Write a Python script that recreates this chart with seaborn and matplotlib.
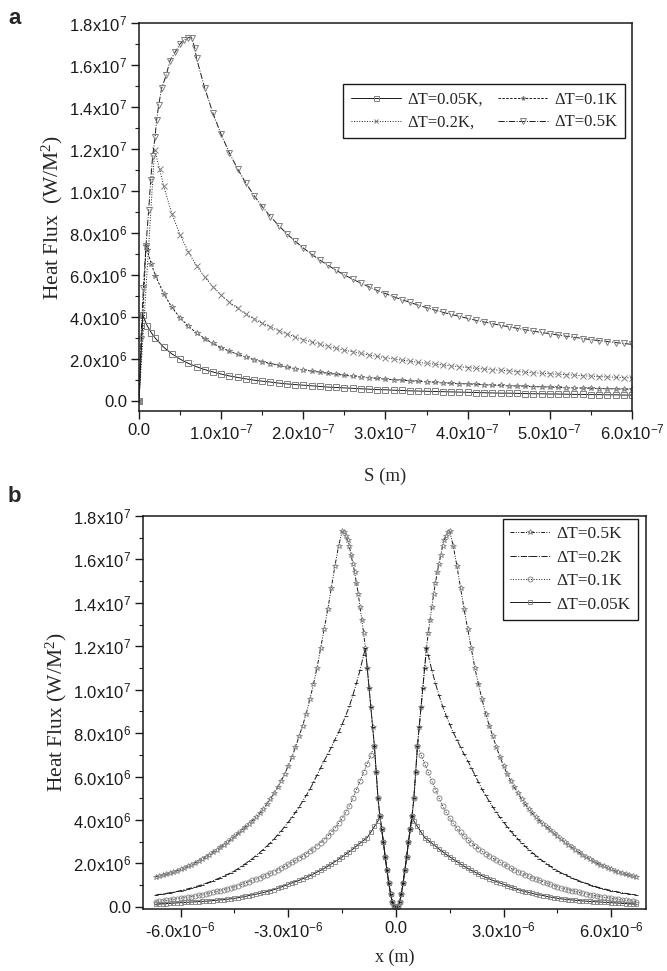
import numpy as np
import seaborn as sns
import matplotlib.pyplot as plt
from matplotlib.ticker import FuncFormatter, MultipleLocator

sns.set_theme(style='ticks')
plt.rcParams['font.family'] = ['Liberation Sans', 'DejaVu Sans']
plt.rcParams['mathtext.default'] = 'regular'

# ---------- panel a : S in 1e-7 m, heat flux in 1e6 W/m2 ----------
s_tail = [0.7, 0.8, 0.9, 1.0, 1.1, 1.2, 1.3, 1.4, 1.5, 1.6, 1.7, 1.8, 1.9, 2.0,
          2.1, 2.2, 2.3, 2.4, 2.5, 2.6, 2.7, 2.8, 2.9, 3.0, 3.1, 3.2, 3.3, 3.4,
          3.5, 3.6, 3.7, 3.8, 3.9, 4.0, 4.1, 4.2, 4.3, 4.4, 4.5, 4.6, 4.7, 4.8,
          4.9, 5.0, 5.1, 5.2, 5.3, 5.4, 5.5, 5.6, 5.7, 5.8, 5.9, 6.0]

s_head_005 = [0.0, 0.045, 0.1, 0.15, 0.2, 0.3, 0.4, 0.5, 0.6]
q_head_005 = [0.0, 4.1, 3.58, 3.25, 2.98, 2.56, 2.24, 1.99, 1.79]
q_tail_005 = [1.63, 1.49, 1.38, 1.28, 1.19, 1.12, 1.05, 0.99, 0.94, 0.90, 0.85,
              0.81, 0.78, 0.75, 0.72, 0.69, 0.66, 0.64, 0.62, 0.60, 0.58, 0.56,
              0.54, 0.53, 0.51, 0.50, 0.48, 0.47, 0.46, 0.45, 0.44, 0.43, 0.42,
              0.41, 0.40, 0.39, 0.38, 0.37, 0.37, 0.36, 0.35, 0.34, 0.34, 0.33,
              0.33, 0.32, 0.31, 0.31, 0.30, 0.30, 0.29, 0.29, 0.28, 0.28]

s_head_01 = [0.0, 0.085, 0.1, 0.15, 0.2, 0.3, 0.4, 0.5, 0.6]
q_head_01 = [0.0, 7.4, 7.18, 6.52, 5.97, 5.11, 4.46, 3.96, 3.56]
q_tail_01 = [3.24, 2.97, 2.74, 2.54, 2.37, 2.22, 2.09, 1.97, 1.87, 1.78, 1.69,
             1.61, 1.54, 1.48, 1.42, 1.37, 1.31, 1.27, 1.22, 1.18, 1.14, 1.11,
             1.07, 1.04, 1.01, 0.99, 0.96, 0.93, 0.91, 0.89, 0.86, 0.84, 0.82,
             0.81, 0.79, 0.77, 0.75, 0.74, 0.72, 0.71, 0.70, 0.68, 0.67, 0.66,
             0.64, 0.63, 0.62, 0.61, 0.60, 0.59, 0.58, 0.57, 0.56, 0.55]

s_head_02 = [0.0, 0.19, 0.25, 0.3, 0.4, 0.5, 0.6]
q_head_02 = [0.0, 11.95, 11.05, 10.24, 8.92, 7.91, 7.10]
q_tail_02 = [6.44, 5.90, 5.44, 5.04, 4.70, 4.41, 4.14, 3.91, 3.70, 3.52, 3.35,
             3.19, 3.05, 2.92, 2.81, 2.70, 2.60, 2.50, 2.42, 2.34, 2.26, 2.19,
             2.12, 2.06, 2.00, 1.94, 1.89, 1.84, 1.79, 1.75, 1.71, 1.67, 1.63,
             1.59, 1.55, 1.52, 1.49, 1.46, 1.43, 1.40, 1.37, 1.34, 1.32, 1.29,
             1.27, 1.25, 1.23, 1.20, 1.18, 1.16, 1.14, 1.13, 1.11, 1.09]

s_head_05 = [0.0, 0.024, 0.053, 0.085, 0.118, 0.142, 0.166, 0.195, 0.215, 0.24,
             0.276, 0.33, 0.377, 0.438, 0.5, 0.55, 0.6, 0.64, 0.68]
q_head_05 = [0.0, 2.96, 5.36, 7.4, 9.1, 10.5, 11.65, 12.56, 13.4, 14.1, 14.9,
             15.5, 16.2, 16.6, 17.0, 17.2, 17.3, 17.3, 16.8]
q_tail_05 = [16.32, 14.90, 13.70, 12.69, 11.81, 11.05, 10.38, 9.78, 9.25, 8.78,
             8.35, 7.96, 7.61, 7.28, 6.99, 6.71, 6.46, 6.22, 6.00, 5.80, 5.61,
             5.43, 5.26, 5.11, 4.96, 4.82, 4.69, 4.56, 4.44, 4.33, 4.22, 4.12,
             4.03, 3.93, 3.84, 3.76, 3.68, 3.60, 3.53, 3.46, 3.39, 3.32, 3.26,
             3.20, 3.14, 3.08, 3.03, 2.97, 2.92, 2.87, 2.83, 2.78, 2.74, 2.69]

# ---------- panel b : x in 1e-6 m (right half, mirrored), heat flux in 1e6 W/m2 ----------
xb_rise = [0.0, 0.05, 0.1, 0.15, 0.2, 0.25, 0.3, 0.35, 0.4, 0.45, 0.5, 0.55, 0.6,
           0.65, 0.7, 0.75, 0.8, 0.85, 0.9, 0.95, 1.0, 1.05, 1.1, 1.15, 1.2,
           1.25, 1.3, 1.35, 1.4, 1.45, 1.5]
qb_rise = [0.0, 0.05, 0.2, 0.6, 1.1, 1.7, 2.3, 3.0, 3.6, 4.2, 5.0, 6.2, 7.4,
           8.3, 9.2, 10.1, 11.0, 11.9, 12.6, 13.2, 13.8, 14.4, 14.9, 15.4, 15.8,
           16.2, 16.6, 16.9, 17.1, 17.25, 17.3]

xb_grid = [0.5, 0.6, 0.7, 0.8, 0.9, 1.0, 1.1, 1.2, 1.3, 1.4, 1.5, 1.6, 1.7, 1.8,
           1.9, 2.0, 2.1, 2.2, 2.3, 2.4, 2.5, 2.6, 2.7, 2.8, 2.9, 3.0, 3.1, 3.2,
           3.3, 3.4, 3.5, 3.6, 3.7, 3.8, 3.9, 4.0, 4.1, 4.2, 4.3, 4.4, 4.5, 4.6,
           4.7, 4.8, 4.9, 5.0, 5.1, 5.2, 5.3, 5.4, 5.5, 5.6, 5.7, 5.8, 5.9, 6.0,
           6.1, 6.2, 6.3, 6.4, 6.5, 6.6, 6.7]

qb_tail_05 = [16.6, 15.7, 14.7, 13.7, 12.8, 11.9, 11.0, 10.25, 9.55, 8.9,
              8.35, 7.85, 7.35, 6.9, 6.5, 6.12, 5.8, 5.5, 5.22, 4.97,
              4.73, 4.5, 4.3, 4.13, 3.97, 3.82, 3.67, 3.52, 3.38, 3.24,
              3.11, 2.98, 2.86, 2.74, 2.62, 2.51, 2.4, 2.3, 2.2, 2.11,
              2.02, 1.94, 1.86, 1.79, 1.72, 1.66, 1.6, 1.55, 1.5, 1.46,
              1.42, 1.38]
qb_tail_02 = [11.6, 10.9, 10.3, 9.75, 9.23, 8.8, 8.4, 8.03, 7.7, 7.35, 7.03,
              6.73, 6.4, 6.07, 5.73, 5.41, 5.13, 4.86, 4.6, 4.35, 4.12, 3.9,
              3.69, 3.49, 3.3, 3.12, 2.95, 2.79, 2.64, 2.5, 2.36, 2.22, 2.1,
              1.98, 1.87, 1.76, 1.66, 1.57, 1.49, 1.41, 1.34, 1.27, 1.2, 1.14,
              1.08, 1.02, 0.97, 0.92, 0.87, 0.83, 0.79, 0.75, 0.71, 0.68, 0.65,
              0.62, 0.59, 0.57, 0.54]
qb_tail_01 = [7.0, 6.6, 6.2, 5.8, 5.4, 5.0, 4.65, 4.35, 4.08, 3.84, 3.62, 3.43,
              3.26, 3.1, 2.95, 2.81, 2.68, 2.56, 2.45, 2.34, 2.24, 2.14, 2.05,
              1.96, 1.87, 1.78, 1.7, 1.62, 1.55, 1.48, 1.41, 1.34, 1.28, 1.22,
              1.16, 1.1, 1.04, 0.98, 0.92, 0.87, 0.83, 0.79, 0.75, 0.71, 0.67,
              0.63, 0.6, 0.56, 0.53, 0.5, 0.47, 0.44, 0.42, 0.39, 0.37, 0.34,
              0.32, 0.3, 0.28, 0.26, 0.24]
qb_tail_005 = [3.95, 3.7, 3.44, 3.19, 3.06, 2.93, 2.8, 2.66, 2.54, 2.42, 2.3,
               2.19, 2.08, 1.97, 1.87, 1.77, 1.68, 1.6, 1.51, 1.43, 1.36, 1.29,
               1.22, 1.16, 1.1, 1.04, 0.97, 0.91, 0.85, 0.79, 0.74, 0.7, 0.66,
               0.62, 0.58, 0.55, 0.52, 0.48, 0.45, 0.42, 0.39, 0.37, 0.35, 0.33,
               0.32, 0.3, 0.29, 0.27, 0.26, 0.25, 0.24, 0.23, 0.22, 0.21, 0.2,
               0.19, 0.18, 0.17, 0.16, 0.15, 0.14, 0.13, 0.12]

# (points kept from the common rising branch, first tail point in xb_grid)
split_b = {'0.05': (10, 0), '0.1': (13, 2), '0.2': (18, 4), '0.5': (31, 11)}


def sci_fmt(v, pos):
    if abs(v) < 1e-30:
        return '0.0'
    e = int(np.floor(np.log10(abs(v)) + 1e-9))
    m = v / 10.0 ** e
    return f'{m:.1f}x10$^{{{e}}}$'


def mirror(x, y):
    x = list(x)
    y = list(y)
    return [-v for v in x[::-1][:-1]] + x, y[::-1][:-1] + y


serif = ['Liberation Serif', 'DejaVu Serif']
mgray = '#808080'

fig = plt.figure(figsize=(6.67, 9.71), dpi=100)
fig.patch.set_facecolor('white')
ax1 = fig.add_axes([139 / 667, 1 - 411 / 971, (632 - 139) / 667, (411 - 23) / 971])
ax2 = fig.add_axes([143 / 667, 1 - 909 / 971, (646 - 143) / 667, (909 - 516) / 971])

# ----- panel a -----
series_a = [
    ('ΔT=0.05K,', s_head_005, q_head_005, q_tail_005, '-', 's', 4.5),
    ('ΔT=0.1K', s_head_01, q_head_01, q_tail_01, (0, (2.5, 1.5)), '*', 4.2),
    ('ΔT=0.2K,', s_head_02, q_head_02, q_tail_02, ':', 'x', 4.4),
    ('ΔT=0.5K', s_head_05, q_head_05, q_tail_05, '-.', 'v', 4.8),
]
handles_a = {}
for lab, sh, qh, qt, ls, mk, ms in series_a:
    xs = np.array(sh + s_tail) * 1e-7
    ys = np.array(qh + qt) * 1e6
    sns.lineplot(x=xs, y=ys, ax=ax1, sort=False, estimator=None, color='k',
                 linewidth=0.7, linestyle=ls, marker=mk, markersize=ms,
                 markerfacecolor='none', markeredgecolor=mgray,
                 markeredgewidth=0.7, label=lab)
    handles_a[lab] = ax1.get_lines()[-1]

ax1.set_xlim(0, 6e-7)
ax1.set_ylim(-4.8e5, 1.8e7)
ax1.xaxis.set_major_locator(MultipleLocator(1e-7))
ax1.xaxis.set_minor_locator(MultipleLocator(0.5e-7))
ax1.yaxis.set_major_locator(MultipleLocator(2e6))
ax1.yaxis.set_minor_locator(MultipleLocator(1e6))
ax1.set_xlabel('S (m)', family=serif, fontsize=13.5, labelpad=18)
ax1.set_ylabel('Heat Flux  (W/M$^2$)', family=serif, fontsize=15.5, labelpad=3)
order_a = ['ΔT=0.05K,', 'ΔT=0.2K,', 'ΔT=0.1K', 'ΔT=0.5K']
ax1.legend([handles_a[k] for k in order_a], order_a, ncol=2, loc='upper right',
           bbox_to_anchor=(0.986, 0.842), borderaxespad=0, frameon=True,
           fancybox=False, edgecolor='k', framealpha=1,
           prop={'family': serif, 'size': 12},
           handlelength=3.0, handletextpad=0.4, columnspacing=0.9,
           labelspacing=0.4, borderpad=0.45, markerscale=0.8)

# ----- panel b -----
series_b = [
    ('ΔT=0.5K', '0.5', qb_tail_05, (0, (4, 1.5, 1, 1.5, 1, 1.5)), '*', 3.8, mgray),
    ('ΔT=0.2K', '0.2', qb_tail_02, '-.', '_', 3.2, 'k'),
    ('ΔT=0.1K', '0.1', qb_tail_01, ':', 'o', 3.6, mgray),
    ('ΔT=0.05K', '0.05', qb_tail_005, '-', 's', 3.4, mgray),
]
for lab, key, qt, ls, mk, ms, mc in series_b:
    n, g = split_b[key]
    xr, yr = mirror(xb_rise[:n] + xb_grid[g:], qb_rise[:n] + qt)
    sns.lineplot(x=np.array(xr) * 1e-6, y=np.array(yr) * 1e6, ax=ax2, sort=False,
                 estimator=None, color='k', linewidth=0.7, linestyle=ls,
                 marker=mk, markersize=ms, markerfacecolor='none',
                 markeredgecolor=mc, markeredgewidth=0.6, label=lab)

ax2.set_xlim(-7.05e-6, 6.97e-6)
ax2.set_ylim(-1e5, 1.8e7)
ax2.xaxis.set_major_locator(MultipleLocator(3e-6))
ax2.xaxis.set_minor_locator(MultipleLocator(1.5e-6))
ax2.yaxis.set_major_locator(MultipleLocator(2e6))
ax2.yaxis.set_minor_locator(MultipleLocator(1e6))
ax2.set_xlabel('x (m)', family=serif, fontsize=13, labelpad=6)
ax2.set_ylabel('Heat Flux (W/M$^2$)', family=serif, fontsize=15.5, labelpad=3)
ax2.legend(loc='upper right', bbox_to_anchor=(0.984, 0.992), borderaxespad=0,
           frameon=True, fancybox=False, edgecolor='k', framealpha=1,
           prop={'family': serif, 'size': 12.5},
           handlelength=2.3, handletextpad=0.4, labelspacing=0.42, borderpad=0.4)

for ax in (ax1, ax2):
    ax.xaxis.set_major_formatter(FuncFormatter(sci_fmt))
    ax.yaxis.set_major_formatter(FuncFormatter(sci_fmt))
    ax.tick_params(which='major', direction='out', length=5.5, width=1,
                   labelsize=12, colors='k', pad=3)
    ax.tick_params(which='minor', direction='out', length=3, width=0.8, colors='k')
    ax.tick_params(top=False, right=False, which='both')
    for sp in ax.spines.values():
        sp.set_color('k')
        sp.set_linewidth(1.1)
    ax.set_facecolor('white')

fig.text(0.012, 0.992, 'a', fontsize=16, fontweight='bold', va='top', ha='left')
fig.text(0.012, 0.499, 'b', fontsize=16, fontweight='bold', va='top', ha='left')

fig.savefig('out.png', dpi=100)
